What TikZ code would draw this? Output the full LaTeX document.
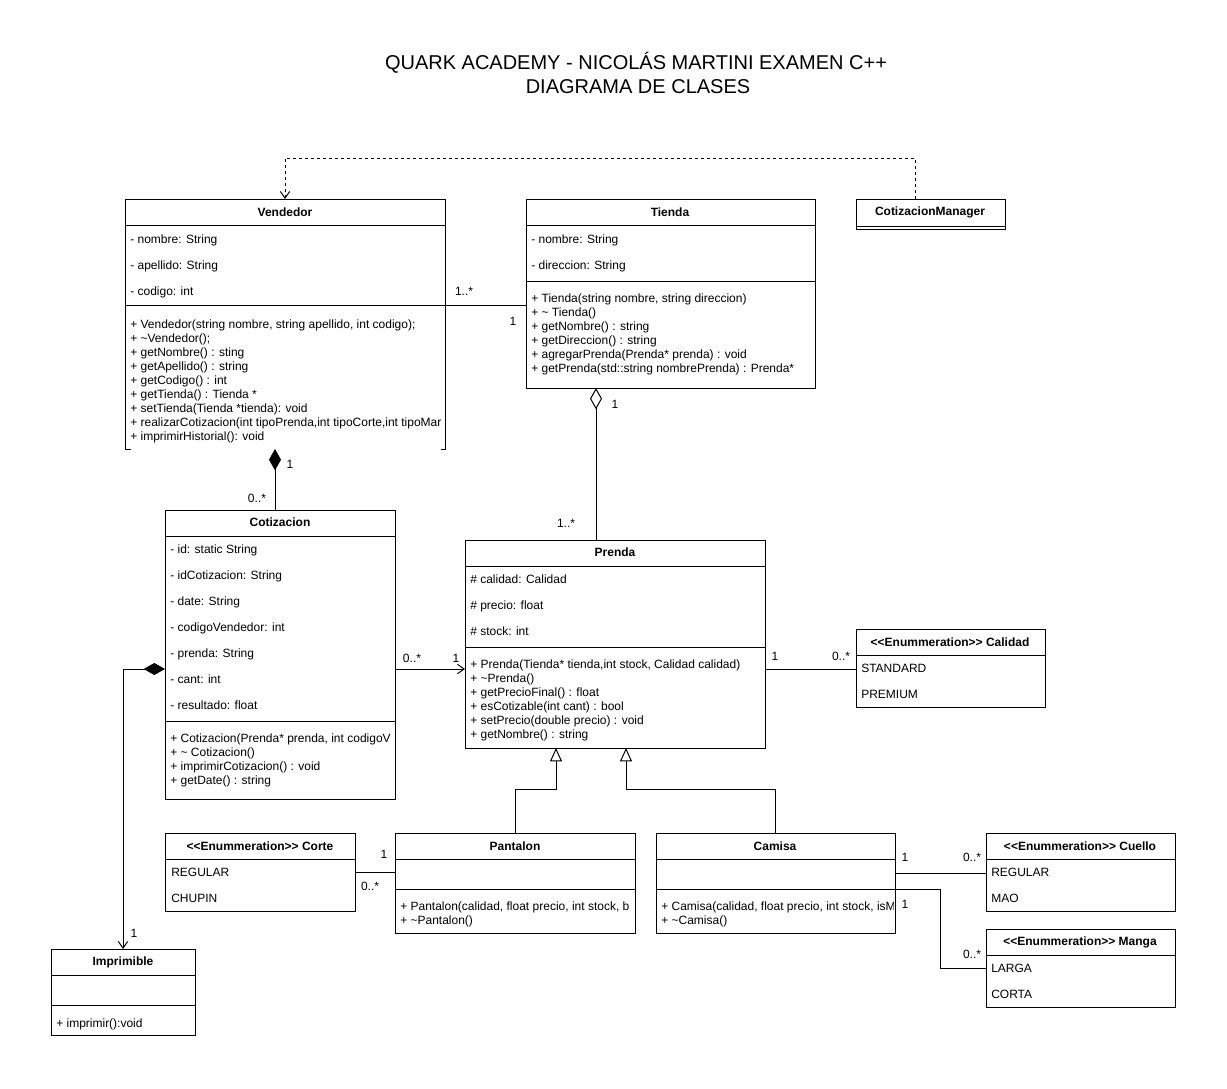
\documentclass[tikz,border=0pt]{standalone}
\usepackage{fontspec}
\setmainfont{Liberation Sans}
\usetikzlibrary{arrows.meta}
\tikzset{
  clsbox/.style={draw, line width=0.75pt, inner sep=0pt, outer sep=0pt},
  sep/.style={line width=0.75pt},
  hdr/.style={font=\bfseries\fontsize{9}{10}\selectfont, inner sep=0pt},
  txt/.style={anchor=base west, inner sep=0pt, font=\fontsize{9}{10}\selectfont},
  lbl/.style={inner sep=0pt, font=\fontsize{9}{10}\selectfont},
  conn/.style={line width=0.75pt},
  openarr/.style={-{Straight Barb[length=5pt,width=7pt]}},
  dep/.style={conn, dash pattern=on 2.25pt off 2.25pt, openarr},
  gen/.style={conn, -{Triangle[open, length=10pt, width=9pt, fill=white]}},
  aggr/.style={conn, -{Diamond[open, length=16pt, width=9pt, fill=white]}},
  comp/.style={conn, -{Diamond[length=16pt, width=9pt]}},
  ttl/.style={inner sep=0pt, font=\fontsize{15}{17}\selectfont},
}
\newcommand\umlcls[6][clsbox]{\node[#1, anchor=north west, minimum width={(#5-#3)*0.75pt}, minimum height={(#6-#4)*0.75pt}] (#2) at (#3,#4) {};}
\newcommand\txtlines[5]{\foreach \t [count=\i from 0] in {#5} \node[txt] (#1-\i) at (#2,{#3+\i*#4}) {\t};}
\begin{document}
\begin{tikzpicture}[x=0.75pt,y=-0.75pt]
\useasboundingbox[fill=white] (0,0) rectangle (1227,1088);

% Title
\node[ttl] (title1) at (636,63) {QUARK ACADEMY - NICOLÁS MARTINI EXAMEN C++};
\node[ttl] (title2) at (638,87) {DIAGRAMA DE CLASES};

% Vendedor (bottom edge only as corner stubs)
\umlcls[inner sep=0pt, outer sep=0pt]{vend}{125}{199}{445}{449}
\draw[sep] ([xshift=4.5pt]vend.south west) -- (vend.south west) -- (vend.north west) -- (vend.north east) -- (vend.south east) -- ([xshift=-3pt]vend.south east);
\draw[sep] (125,225) -- (445,225);
\draw[sep] (125,305) -- (445,305);
\node[hdr] (vend-t) at (285,212) {Vendedor};
\txtlines{vend-a}{130}{243}{26}{{- nombre: String},{- apellido: String},{- codigo: int}}
\begin{scope}
\clip (125,306) rectangle (443,449);
\txtlines{vend-m}{130}{328}{14}{{+ Vendedor(string nombre, string apellido, int codigo);},{+ \textasciitilde Vendedor();},{+ getNombre() : sting},{+ getApellido() : string},{+ getCodigo() : int},{+ getTienda() : Tienda *},{+ setTienda(Tienda *tienda): void},{+ realizarCotizacion(int tipoPrenda,int tipoCorte,int tipoMar},{+ imprimirHistorial(): void}}
\end{scope}

% Tienda
\umlcls{tien}{526}{199}{815}{388}
\draw[sep] (526,225) -- (815,225);
\draw[sep] (526,281) -- (815,281);
\node[hdr] (tien-t) at (670,212) {Tienda};
\txtlines{tien-a}{531}{243}{26}{{- nombre: String},{- direccion: String}}
\txtlines{tien-m}{531}{302}{14}{{+ Tienda(string nombre, string direccion)},{+ \textasciitilde{} Tienda()},{+ getNombre() : string},{+ getDireccion() : string},{+ agregarPrenda(Prenda* prenda) : void},{+ getPrenda(std::string nombrePrenda) : Prenda*}}

% CotizacionManager
\umlcls{cman}{856}{199}{1005}{229}
\draw[sep] (856,226) -- (1005,226);
\node[hdr] (cman-t) at (930,212) {CotizacionManager};

% Cotizacion
\umlcls{coti}{165}{510}{395}{799}
\draw[sep] (165,536) -- (395,536);
\draw[sep] (165,721) -- (395,721);
\node[hdr] (coti-t) at (280,522) {Cotizacion};
\txtlines{coti-a}{170}{553}{26}{{- id: static String},{- idCotizacion: String},{- date: String},{- codigoVendedor: int},{- prenda: String},{- cant: int},{- resultado: float}}
\begin{scope}
\clip (165,722) rectangle (393,799);
\txtlines{coti-m}{170}{742}{14}{{+ Cotizacion(Prenda* prenda, int codigoV},{+ \textasciitilde{} Cotizacion()},{+ imprimirCotizacion() : void},{+ getDate() : string}}
\end{scope}

% Prenda
\umlcls{pren}{465}{540}{765}{748}
\draw[sep] (465,566) -- (765,566);
\draw[sep] (465,647) -- (765,647);
\node[hdr] (pren-t) at (615,552) {Prenda};
\txtlines{pren-a}{470}{583}{26}{{\# calidad: Calidad},{\# precio: float},{\# stock: int}}
\txtlines{pren-m}{470}{668}{14}{{+ Prenda(Tienda* tienda,int stock, Calidad calidad)},{+ \textasciitilde Prenda()},{+ getPrecioFinal() : float},{+ esCotizable(int cant) : bool},{+ setPrecio(double precio) : void},{+ getNombre() : string}}

% Calidad
\umlcls{cali}{856}{629}{1045}{707}
\draw[sep] (856,655) -- (1045,655);
\node[hdr] (cali-t) at (950,642) {{<}{<}Enummeration{>}{>} Calidad};
\txtlines{cali-a}{861}{672}{26}{{STANDARD},{PREMIUM}}

% Pantalon
\umlcls{pant}{395}{833}{635}{933}
\draw[sep] (395,859) -- (635,859);
\draw[sep] (395,889) -- (635,889);
\node[hdr] (pant-t) at (515,846) {Pantalon};
\begin{scope}
\clip (395,890) rectangle (633,933);
\txtlines{pant-m}{400}{910}{14}{{+ Pantalon(calidad, float precio, int stock, b},{+ \textasciitilde Pantalon()}}
\end{scope}

% Camisa
\umlcls{cami}{656}{833}{895}{933}
\draw[sep] (656,859) -- (895,859);
\draw[sep] (656,889) -- (895,889);
\node[hdr] (cami-t) at (775,846) {Camisa};
\begin{scope}
\clip (656,890) rectangle (893,933);
\txtlines{cami-m}{661}{910}{14}{{+ Camisa(calidad, float precio, int stock, isM},{+ \textasciitilde Camisa()}}
\end{scope}

% Corte
\umlcls{cort}{165}{833}{355}{911}
\draw[sep] (165,859) -- (355,859);
\node[hdr] (cort-t) at (260,846) {{<}{<}Enummeration{>}{>} Corte};
\txtlines{cort-a}{171}{876}{26}{{REGULAR},{CHUPIN}}

% Cuello
\umlcls{cuel}{986}{833}{1175}{911}
\draw[sep] (986,859) -- (1175,859);
\node[hdr] (cuel-t) at (1080,846) {{<}{<}Enummeration{>}{>} Cuello};
\txtlines{cuel-a}{991}{876}{26}{{REGULAR},{MAO}}

% Manga
\umlcls{mang}{986}{929}{1175}{1007}
\draw[sep] (986,955) -- (1175,955);
\node[hdr] (mang-t) at (1080,942) {{<}{<}Enummeration{>}{>} Manga};
\txtlines{mang-a}{991}{972}{26}{{LARGA},{CORTA}}

% Imprimible
\umlcls{impr}{51}{949}{195}{1035}
\draw[sep] (51,975) -- (195,975);
\draw[sep] (51,1005) -- (195,1005);
\node[hdr] (impr-t) at (123,962) {Imprimible};
\txtlines{impr-m}{56}{1027}{14}{{+ imprimir():void}}

% ---------- Connectors ----------
% dependency CotizacionManager -> Vendedor
\draw[dep] ([xshift=-11.6pt]cman.north) -- ++(0,-41) -| (vend.north);

% Vendedor -- Tienda
\draw[conn] (vend.east |- 0,305) -- (tien.west |- 0,305);
\node[lbl] (l1) at (464,291) {1..*};
\node[lbl] (l2) at (513,321) {1};

% Tienda <>-- Prenda
\draw[aggr] (pren.north -| 596,0) -- (tien.south -| 596,0);
\node[lbl] (l3) at (615,404) {1};
\node[lbl] (l4) at (566,523) {1..*};

% Vendedor <#>-- Cotizacion
\draw[comp] (coti.north -| 275,0) -- (vend.south -| 275,0);
\node[lbl] (l5) at (290,464) {1};
\node[lbl] (l6) at (257,498) {0..*};

% Cotizacion <#>--> Imprimible
\draw[conn, {Diamond[length=16pt, width=9pt]}-{Straight Barb[length=5pt,width=7pt]}] (coti.west |- 0,669) -| (impr.north);
\node[lbl] (l7) at (134,933) {1};

% Cotizacion --> Prenda
\draw[conn, openarr] (coti.east |- 0,669) -- (pren.west |- 0,669);
\node[lbl] (l8) at (412,658) {0..*};
\node[lbl] (l9) at (456,658) {1};

% Prenda -- Calidad
\draw[conn] (pren.east |- 0,669) -- (cali.west |- 0,669);
\node[lbl] (l10) at (775,656) {1};
\node[lbl] (l11) at (841,656) {0..*};

% Generalisation
\draw[gen] (pant.north) -- ++(0,-44) -| (pren.south -| 556,0);
\draw[gen] (cami.north) -- ++(0,-44) -| (pren.south -| 626,0);

% Corte -- Pantalon
\draw[conn] (cort.east |- 0,872) -- (pant.west |- 0,872);
\node[lbl] (l12) at (384,854) {1};
\node[lbl] (l13) at (370,886) {0..*};

% Camisa -- Cuello
\draw[conn] (cami.east |- 0,873) -- (cuel.west |- 0,873);
\node[lbl] (l14) at (905,857) {1};
\node[lbl] (l15) at (972,857) {0..*};

% Camisa -- Manga
\draw[conn] (cami.east |- 0,889) -- ++(45,0) |- (mang.west |- 0,968);
\node[lbl] (l16) at (905,904) {1};
\node[lbl] (l17) at (972,954) {0..*};
\end{tikzpicture}
\end{document}
